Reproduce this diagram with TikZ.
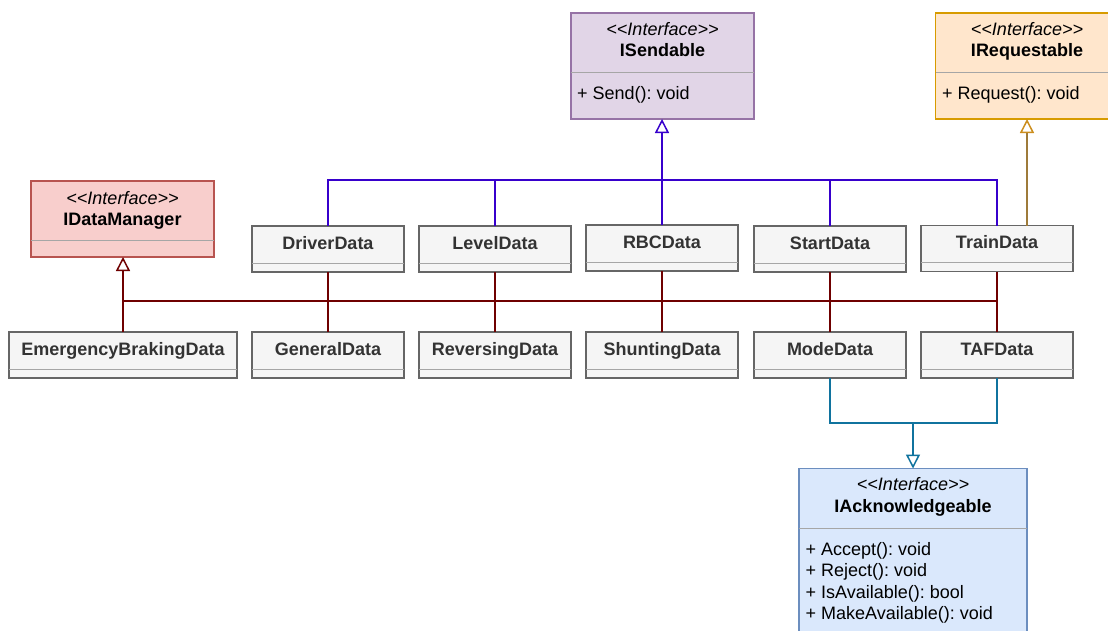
\documentclass[tikz,border=0pt]{standalone}
\usepackage{fontspec}
\newfontfamily\umlfont{Liberation Sans}
\usetikzlibrary{arrows.meta}
\frenchspacing

\definecolor{clsfill}{HTML}{F5F5F5}
\definecolor{clsdraw}{HTML}{666666}
\definecolor{clstext}{HTML}{333333}
\definecolor{bargray}{HTML}{A6A6A6}
\definecolor{sendfill}{HTML}{E1D5E7}
\definecolor{senddraw}{HTML}{9673A6}
\definecolor{reqfill}{HTML}{FFE6CC}
\definecolor{reqdraw}{HTML}{D79B00}
\definecolor{mgrfill}{HTML}{F8CECC}
\definecolor{mgrdraw}{HTML}{B85450}
\definecolor{ackfill}{HTML}{DAE8FC}
\definecolor{ackdraw}{HTML}{6C8EBF}
\definecolor{sendline}{HTML}{3700CC}
\definecolor{reqline}{HTML}{9E7B3A}
\definecolor{reqtip}{HTML}{CC8E1E}
\definecolor{dataline}{HTML}{6F0000}
\definecolor{ackline}{HTML}{10739E}

\newcommand{\umlsize}{\fontsize{18}{21.7}\selectfont}

% one data class: name, centre x, top y, label
\newcommand{\dataclass}[4]{%
  \node[clsbox] (#1) at (#2,#3+23) {};
  \node[clsname] (#1-name) at (#2,#3+23.3) {#4};
  \draw[bar] ([yshift=9pt]#1.south west) -- ([yshift=9pt]#1.south east);
}

\begin{document}
\begin{tikzpicture}[x=1pt,y=-1pt,
  box/.style={rectangle, draw, line width=1.3pt, inner sep=0pt, outer sep=0pt},
  clsbox/.style={box, draw=clsdraw, fill=clsfill, minimum width=152pt, minimum height=46pt},
  bar/.style={line width=1pt, draw=bargray},
  clsname/.style={anchor=base, inner sep=0pt, text=clstext, font=\umlfont\bfseries\umlsize},
  stereo/.style={anchor=base, inner sep=0pt, text=black, font=\umlfont\itshape\umlsize},
  iname/.style={anchor=base, inner sep=0pt, text=black, font=\umlfont\bfseries\umlsize},
  member/.style={anchor=base west, inner sep=0pt, text=black, font=\umlfont\umlsize},
  conn/.style={line width=1.5pt},
  realize/.style={-{Triangle[open, length=14pt, width=14pt, line width=1.5pt]}},
]
\fill[white] (0,0) rectangle (1108,630);
\useasboundingbox (0,0) rectangle (1108,630);

% ---- interfaces ----
\node[box, draw=senddraw, fill=sendfill, minimum width=183pt, minimum height=106pt] (isend) at (662.5,66) {};
\node[stereo] (isend-st) at (662.5,35) {<<Interface>>};
\node[iname] (isend-name) at (662.5,56.5) {ISendable};
\draw[bar] ([yshift=-59pt]isend.north west) -- ([yshift=-59pt]isend.north east);
\node[member] (isend-m1) at (577,99) {+ Send(): void};

\node[box, draw=reqdraw, fill=reqfill, minimum width=183pt, minimum height=106pt] (ireq) at (1027,66) {};
\node[stereo] (ireq-st) at (1027,35) {<<Interface>>};
\node[iname] (ireq-name) at (1027,56.5) {IRequestable};
\draw[bar] ([yshift=-59pt]ireq.north west) -- ([yshift=-59pt]ireq.north east);
\node[member] (ireq-m1) at (942,99) {+ Request(): void};

\node[box, draw=mgrdraw, fill=mgrfill, minimum width=183pt, minimum height=76pt] (idm) at (122.5,219) {};
\node[stereo] (idm-st) at (122.5,204) {<<Interface>>};
\node[iname] (idm-name) at (122.5,225) {IDataManager};
\draw[bar] ([yshift=-59.7pt]idm.north west) -- ([yshift=-59.7pt]idm.north east);

\node[box, draw=ackdraw, fill=ackfill, minimum width=228pt, minimum height=174pt] (iack) at (913,555.5) {};
\node[stereo] (iack-st) at (913,490) {<<Interface>>};
\node[iname] (iack-name) at (913,512.5) {IAcknowledgeable};
\draw[bar] ([yshift=-59.5pt]iack.north west) -- ([yshift=-59.5pt]iack.north east);
\node[member] (iack-m1) at (805.5,555) {+ Accept(): void};
\node[member] (iack-m2) at (805.5,576.5) {+ Reject(): void};
\node[member] (iack-m3) at (805.5,598) {+ IsAvailable(): bool};
\node[member] (iack-m4) at (805.5,619.7) {+ MakeAvailable(): void};

% ---- data classes ----
\dataclass{driver}{328}{226}{DriverData}
\dataclass{level}{495}{226}{LevelData}
\dataclass{rbc}{662}{225}{RBCData}
\dataclass{start}{830}{226}{StartData}
\dataclass{train}{997}{225.5}{TrainData}

\node[clsbox, minimum width=228pt] (ebd) at (123,355) {};
\node[clsname] (ebd-name) at (123,355.3) {EmergencyBrakingData};
\draw[bar] ([yshift=9pt]ebd.south west) -- ([yshift=9pt]ebd.south east);
\dataclass{general}{328}{332}{GeneralData}
\dataclass{reversing}{495}{332}{ReversingData}
\dataclass{shunting}{662}{332}{ShuntingData}
\dataclass{mode}{830}{332}{ModeData}
\dataclass{taf}{997}{332}{TAFData}

% ---- ISendable realizations ----
\coordinate (sbus) at (662,180);
\draw[conn, sendline] (driver.north) |- (sbus);
\draw[conn, sendline] (train.north) |- (sbus);
\draw[conn, sendline] (level.north) -- (level.north |- sbus);
\draw[conn, sendline] (start.north) -- (start.north |- sbus);
\draw[conn, sendline, realize] (rbc.north) -- (rbc.north |- isend.south);

% ---- IRequestable realization ----
\draw[conn, draw=reqline, -{Triangle[open, length=14pt, width=14pt, line width=1.5pt, color=reqtip]}]
  (train.north -| ireq.south) -- (ireq.south);

% ---- IDataManager realizations ----
\coordinate (dbus) at (123,301);
\draw[conn, dataline, realize] (ebd.north) -- (ebd.north |- idm.south);
\draw[conn, dataline] (dbus) -- (train.south |- dbus);
\draw[conn, dataline] (driver.south) -- (general.north);
\draw[conn, dataline] (level.south) -- (reversing.north);
\draw[conn, dataline] (rbc.south) -- (shunting.north);
\draw[conn, dataline] (start.south) -- (mode.north);
\draw[conn, dataline] (train.south) -- (taf.north);

% ---- IAcknowledgeable realizations ----
\coordinate (abus) at (913,423);
\draw[conn, ackline] (mode.south) |- (abus) -| (taf.south);
\draw[conn, ackline, realize] (abus) -- (iack.north);
\end{tikzpicture}
\end{document}
